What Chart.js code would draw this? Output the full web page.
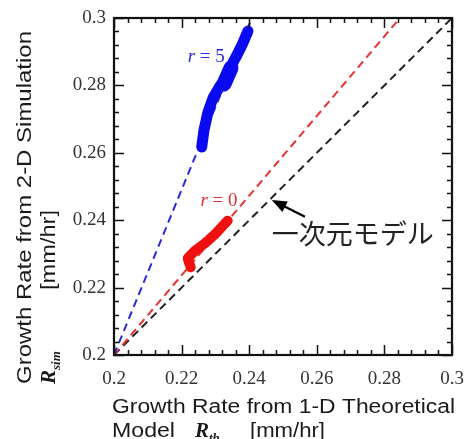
<!DOCTYPE html>
<html>
<head>
<meta charset="utf-8">
<script src="https://cdn.jsdelivr.net/npm/chart.js@4"></script>
<style>
  body { margin: 0; background: #fff; }
  canvas { display: block; }
</style>
</head>
<body>
<canvas id="chart" width="465" height="439"></canvas>
<script>
// axis ticks
const tickValues = [0.2, 0.22, 0.24, 0.26, 0.28, 0.3];
const tickLabels = ['0.2', '0.22', '0.24', '0.26', '0.28', '0.3'];
const minorStep = 0.004;

// simulation results r = 5 (blue) and r = 0 (red)
const blueX = [0.22595, 0.22663, 0.22781, 0.22929, 0.23136, 0.23314, 0.23432, 0.23609, 0.23787, 0.23964];
const blueY = [0.26172, 0.26677, 0.27211, 0.27626, 0.27982, 0.28220, 0.28516, 0.28843, 0.29199, 0.29614];
const blueKnotX = [0.23254, 0.23462];
const blueKnotY = [0.28042, 0.28516];
const redX = [0.22269, 0.22180, 0.22396, 0.22692, 0.22988, 0.23284, 0.23364];
const redY = [0.22602, 0.22869, 0.23095, 0.23315, 0.23582, 0.23908, 0.23985];

// fitted lines from origin of the plot
const fitBlueX = [0.2, 0.2408];
const fitBlueY = [0.2, 0.3];
const fitRedX = [0.2, 0.2846];
const fitRedY = [0.2, 0.3];
const modelX = [0.2, 0.3];
const modelY = [0.2, 0.3];

const BLUE = '#0a0af0';
const RED = '#f01010';

function pts(xs, ys) {
  return xs.map((x, i) => ({ x: x, y: ys[i] }));
}

function blob(data, color, width) {
  return {
    data: data, showLine: true, borderColor: color, borderWidth: width,
    pointRadius: 0, borderCapStyle: 'round', borderJoinStyle: 'round', tension: 0
  };
}

function dashed(data, color) {
  return {
    data: data, showLine: true, borderColor: color, borderWidth: 2,
    borderDash: [8, 5], pointRadius: 0, tension: 0
  };
}

function fixTicks(scale) {
  scale.ticks = tickValues.map(v => ({ value: v }));
}

function noPad(scale) {
  scale.paddingLeft = 0;
  scale.paddingRight = 0;
  scale.paddingTop = 0;
  scale.paddingBottom = 0;
}

// inward ticks on all four sides plus the frame
const frame = {
  id: 'frame',
  afterDraw(chart) {
    const c = chart.ctx;
    const a = chart.chartArea;
    const sx = chart.scales.x, sy = chart.scales.y;
    c.save();
    c.strokeStyle = '#111';
    c.lineWidth = 1.5;
    c.beginPath();
    const n = Math.round(0.1 / minorStep);
    for (let i = 0; i <= n; i++) {
      const v = 0.2 + i * minorStep;
      const len = i % 5 === 0 ? 10 : 5;
      const px = Math.round(sx.getPixelForValue(v)) + 0.5;
      const py = Math.round(sy.getPixelForValue(v)) + 0.5;
      c.moveTo(px, a.bottom); c.lineTo(px, a.bottom - len);
      c.moveTo(px, a.top); c.lineTo(px, a.top + len);
      c.moveTo(a.left, py); c.lineTo(a.left + len, py);
      c.moveTo(a.right, py); c.lineTo(a.right - len, py);
    }
    c.stroke();
    c.lineWidth = 2.2;
    c.strokeRect(a.left, a.top, a.right - a.left, a.bottom - a.top);
    c.restore();
  }
};

function drawParts(c, parts) {
  for (const p of parts) {
    c.font = p.font;
    c.textBaseline = 'alphabetic';
    if (p.w) {
      const m = c.measureText(p.t).width;
      c.save();
      c.translate(p.x, p.y);
      c.scale(p.w / m, 1);
      c.fillText(p.t, 0, 0);
      c.restore();
    } else {
      c.fillText(p.t, p.x, p.y);
    }
  }
}

// labels, arrow and axis titles
const notes = {
  id: 'notes',
  afterDraw(chart) {
    const c = chart.ctx;
    const sx = chart.scales.x, sy = chart.scales.y;
    c.save();

    // r = 5
    let x = sx.getPixelForValue(0.2218), y = sy.getPixelForValue(0.2868);
    c.fillStyle = '#2a2ad8';
    drawParts(c, [
      { t: 'r', font: 'italic 19px "Liberation Serif"', x: x, y: y },
      { t: '= 5', font: '19px "Liberation Serif"', x: x + 12, y: y }
    ]);

    // r = 0
    x = sx.getPixelForValue(0.2256); y = sy.getPixelForValue(0.2443);
    c.fillStyle = '#e83030';
    drawParts(c, [
      { t: 'r', font: 'italic 19px "Liberation Serif"', x: x, y: y },
      { t: '= 0', font: '19px "Liberation Serif"', x: x + 12, y: y }
    ]);

    // arrow pointing at the 1-D model line
    const tx = sx.getPixelForValue(0.24666), ty = sy.getPixelForValue(0.2460);
    const ex = sx.getPixelForValue(0.2565), ey = sy.getPixelForValue(0.2410);
    const ang = Math.atan2(ey - ty, ex - tx);
    c.strokeStyle = '#000';
    c.fillStyle = '#000';
    c.lineWidth = 2.2;
    c.beginPath();
    c.moveTo(tx + 10 * Math.cos(ang), ty + 10 * Math.sin(ang));
    c.lineTo(ex, ey);
    c.stroke();
    c.beginPath();
    c.moveTo(tx, ty);
    c.lineTo(tx + 15 * Math.cos(ang) - 6 * Math.sin(ang), ty + 15 * Math.sin(ang) + 6 * Math.cos(ang));
    c.lineTo(tx + 15 * Math.cos(ang) + 6 * Math.sin(ang), ty + 15 * Math.sin(ang) - 6 * Math.cos(ang));
    c.closePath();
    c.fill();

    c.fillStyle = '#222';
    c.font = '27px "Noto Sans CJK JP"';
    c.textBaseline = 'middle';
    c.fillText('一次元モデル', sx.getPixelForValue(0.2467), sy.getPixelForValue(0.2360));

    // x axis title
    c.fillStyle = '#1a1a1a';
    drawParts(c, [
      { t: 'Growth Rate from 1-D Theoretical', font: '20px "Liberation Sans"', x: 112, y: 413, w: 343 },
      { t: 'Model', font: '20px "Liberation Sans"', x: 112, y: 437, w: 63 },
      { t: 'R', font: 'bold italic 21px "Liberation Serif"', x: 195, y: 437 },
      { t: 'th', font: 'bold italic 13px "Liberation Serif"', x: 209, y: 442 },
      { t: '[mm/hr]', font: '20px "Liberation Sans"', x: 250, y: 437, w: 75 }
    ]);

    // y axis title, rotated
    c.translate(0, 384);
    c.rotate(-Math.PI / 2);
    drawParts(c, [
      { t: 'Growth Rate from 2-D Simulation', font: '20px "Liberation Sans"', x: 0, y: 31, w: 353 },
      { t: 'R', font: 'bold italic 21px "Liberation Serif"', x: 0, y: 55 },
      { t: 'sim', font: 'bold italic 13px "Liberation Serif"', x: 14, y: 60 },
      { t: '[mm/hr]', font: '20px "Liberation Sans"', x: 94, y: 55, w: 80 }
    ]);
    c.restore();
  }
};

const tickFont = { family: '"Liberation Serif"', size: 19 };

new Chart(document.getElementById('chart'), {
  type: 'scatter',
  data: {
    datasets: [
      blob(pts(blueKnotX, blueKnotY), BLUE, 15),
      blob(pts(blueX, blueY), BLUE, 11),
      blob(pts(redX, redY), RED, 10),
      dashed(pts(fitBlueX, fitBlueY), '#2a2ad8'),
      dashed(pts(fitRedX, fitRedY), '#e83030'),
      dashed(pts(modelX, modelY), '#222')
    ]
  },
  options: {
    responsive: false,
    animation: false,
    layout: { padding: { left: 54, top: 18, right: 13, bottom: 44 } },
    scales: {
      x: {
        type: 'linear', min: 0.2, max: 0.3,
        afterBuildTicks: fixTicks,
        afterFit(scale) { scale.height = 40; noPad(scale); },
        grid: { display: false },
        border: { display: false },
        ticks: {
          font: tickFont, color: '#333', padding: 5, maxRotation: 0,
          callback: (v, i) => tickLabels[i]
        }
      },
      y: {
        type: 'linear', min: 0.2, max: 0.3,
        afterBuildTicks: fixTicks,
        afterFit(scale) { scale.width = 60; noPad(scale); },
        grid: { display: false },
        border: { display: false },
        ticks: {
          font: tickFont, color: '#333', padding: 0,
          callback: (v, i) => tickLabels[i]
        }
      }
    },
    plugins: {
      legend: { display: false },
      tooltip: { enabled: false }
    }
  },
  plugins: [frame, notes]
});
</script>
</body>
</html>
